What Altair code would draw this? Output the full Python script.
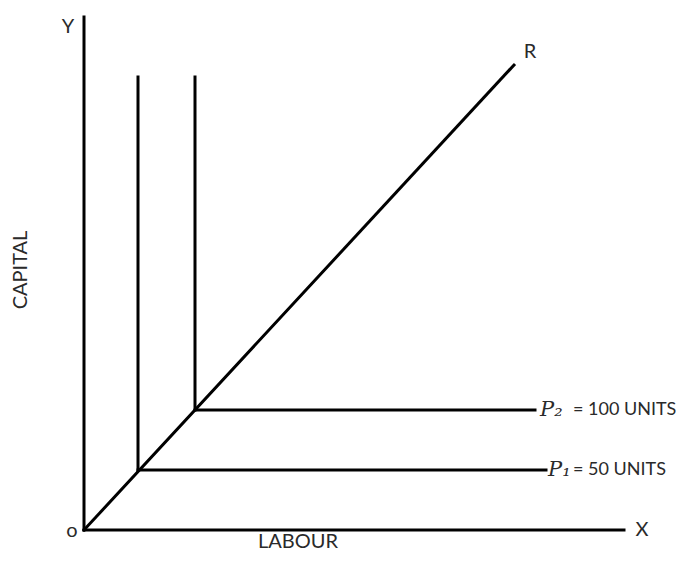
import altair as alt
import pandas as pd

# Diagram geometry in (labour, capital) units
seg_names = ["Y axis", "X axis", "Ray OR", "P1 vertical", "P1 horizontal", "P2 vertical", "P2 horizontal"]
seg_x1 = [0.0, 0.0, 0.0, 5.4, 5.4, 11.1, 11.1]
seg_y1 = [0.0, 0.0, 0.0, 6.0, 6.0, 12.0, 12.0]
seg_x2 = [0.0, 54.0, 43.0, 5.4, 46.2, 11.1, 45.1]
seg_y2 = [51.3, 0.0, 46.5, 45.3, 6.0, 45.3, 12.0]

segs = pd.DataFrame({"name": seg_names, "x": seg_x1, "y": seg_y1, "x2": seg_x2, "y2": seg_y2})

lab_text = ["Y", "X", "R", "o", "LABOUR"]
lab_x = [-1.6, 55.8, 44.6, -1.2, 21.4]
lab_y = [50.3, 0.0, 47.8, -0.1, -1.2]
labels = pd.DataFrame({"text": lab_text, "x": lab_x, "y": lab_y})

cap_text = ["CAPITAL"]
cap_x = [-6.3]
cap_y = [26.0]
caps = pd.DataFrame({"text": cap_text, "x": cap_x, "y": cap_y})

p_text = ["P\u2082", "P\u2081"]
p_x = [45.6, 46.4]
p_y = [12.0, 6.0]
ps = pd.DataFrame({"text": p_text, "x": p_x, "y": p_y})

u_text = ["= 100 UNITS", "= 50 UNITS"]
u_x = [48.9, 48.9]
u_y = [12.0, 6.0]
us = pd.DataFrame({"text": u_text, "x": u_x, "y": u_y})

# 10 px per unit; origin at page pixel (84, 530)
xs = alt.Scale(domain=[-7.6, 59.2], nice=False, zero=False)
ys = alt.Scale(domain=[-2.3, 52.2], nice=False, zero=False)

lines = alt.Chart(segs).mark_rule(color="black", strokeWidth=3, strokeCap="square").encode(
    x=alt.X("x:Q", scale=xs, axis=None),
    y=alt.Y("y:Q", scale=ys, axis=None),
    x2="x2:Q",
    y2="y2:Q",
)

font = "Lato"
col = "#2a2a2a"
txt = alt.Chart(labels).mark_text(font=font, fontSize=20, color=col, align="center", baseline="middle").encode(
    x=alt.X("x:Q", scale=xs, axis=None),
    y=alt.Y("y:Q", scale=ys, axis=None),
    text="text:N",
)

captxt = alt.Chart(caps).mark_text(font=font, fontSize=20, color=col, angle=270, align="center", baseline="middle").encode(
    x=alt.X("x:Q", scale=xs, axis=None),
    y=alt.Y("y:Q", scale=ys, axis=None),
    text="text:N",
)

ptxt = alt.Chart(ps).mark_text(font="DejaVu Serif", fontStyle="italic", fontSize=21, color=col, align="left", baseline="middle").encode(
    x=alt.X("x:Q", scale=xs, axis=None),
    y=alt.Y("y:Q", scale=ys, axis=None),
    text="text:N",
)

utxt = alt.Chart(us).mark_text(font=font, fontSize=18, color=col, align="left", baseline="middle").encode(
    x=alt.X("x:Q", scale=xs, axis=None),
    y=alt.Y("y:Q", scale=ys, axis=None),
    text="text:N",
)

chart = alt.layer(lines, txt, captxt, ptxt, utxt).properties(
    width=668, height=545, autosize=alt.AutoSizeParams(type="none"), padding=0
).configure_view(stroke=None)

chart.save("out.html", embed_options={"renderer": "svg", "actions": False})
